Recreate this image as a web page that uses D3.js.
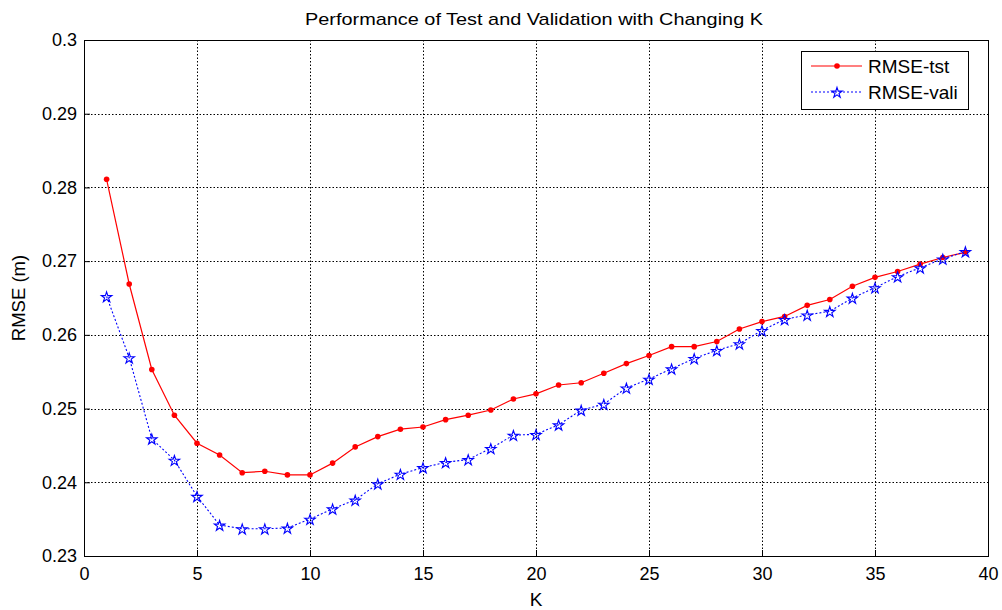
<!DOCTYPE html>
<html><head><meta charset="utf-8">
<script src="https://cdn.jsdelivr.net/npm/d3@7"></script>
<style>
body{margin:0;background:#fff;}
svg{display:block;font-family:"Liberation Sans",Arial,sans-serif;}
</style></head>
<body><svg id="c" width="1002" height="610"></svg>
<script>
const kValues = d3.range(1, 40);
const rmseTst = [0.2811,0.2669,0.2553,0.2491,0.2453,0.2437,0.2413,0.2415,0.2410,0.2410,
  0.2426,0.2448,0.2462,0.2472,0.2475,0.2485,0.2491,0.2498,0.2513,0.2520,
  0.2532,0.2535,0.2548,0.2561,0.2572,0.2584,0.2584,0.2591,0.2608,0.2618,
  0.2625,0.2640,0.2648,0.2666,0.2678,0.2686,0.2696,0.2705,0.2712];
const rmseVali = [0.2652,0.2569,0.2459,0.2430,0.2381,0.2342,0.2337,0.2337,0.2338,0.2350,
  0.2364,0.2376,0.2398,0.2411,0.2420,0.2427,0.2431,0.2446,0.2464,0.2465,
  0.2478,0.2498,0.2506,0.2528,0.2540,0.2554,0.2568,0.2579,0.2588,0.2606,
  0.2621,0.2627,0.2632,0.2650,0.2664,0.2679,0.2691,0.2703,0.2713];
const xTicks = [0,5,10,15,20,25,30,35,40];
const yTicks = [0.23,0.24,0.25,0.26,0.27,0.28,0.29,0.3];
const seriesNames = ["RMSE-tst","RMSE-vali"];
const titleText = "Performance of Test and Validation with Changing K";

const L=84,R=988,T=40,B=556;
const svg=d3.select("#c");
const x=d3.scaleLinear().domain([0,40]).range([L,R]);
const y=d3.scaleLinear().domain([0.23,0.3]).range([B,T]);

// grid
const g=svg.append("g");
g.selectAll(".vg").data(xTicks.slice(1,-1)).join("line")
  .attr("x1",d=>Math.round(x(d))+0.5).attr("x2",d=>Math.round(x(d))+0.5).attr("y1",T).attr("y2",B)
  .attr("stroke","#000").attr("stroke-width",1).attr("stroke-dasharray","1.5,2");
g.selectAll(".hg").data(yTicks.slice(1,-1)).join("line")
  .attr("y1",d=>Math.round(y(d))+0.5).attr("y2",d=>Math.round(y(d))+0.5).attr("x1",L).attr("x2",R)
  .attr("stroke","#000").attr("stroke-width",1).attr("stroke-dasharray","1.5,2");
// axes
const xa=d3.axisBottom(x).tickValues(xTicks).tickSize(-6).tickPadding(11).tickFormat(d3.format("d"));
const ya=d3.axisLeft(y).tickValues(yTicks).tickSize(-6).tickPadding(7).tickFormat(d=>String(+d.toFixed(2)));
const gx=svg.append("g").attr("transform",`translate(0,${B})`).call(xa);
const gy=svg.append("g").attr("transform",`translate(${L},0)`).call(ya);
[gx,gy].forEach(a=>{a.select(".domain").remove();
  a.selectAll("text").attr("font-size",18).attr("fill","#000").attr("font-family","Liberation Sans, Arial, sans-serif");
  a.selectAll("line").attr("stroke","#000");});
// box
svg.append("rect").attr("x",L+0.5).attr("y",T+0.5).attr("width",R-L).attr("height",B-T)
  .attr("fill","none").attr("stroke","#000").attr("stroke-width",1);

// lines
const line=d3.line().x((d,i)=>x(kValues[i])).y(d=>y(d));
svg.append("path").datum(rmseTst).attr("d",line).attr("fill","none").attr("stroke","#f00").attr("stroke-width",1.2);
svg.append("path").datum(rmseVali).attr("d",line).attr("fill","none").attr("stroke","#00f").attr("stroke-width",1.1).attr("stroke-dasharray","2,2");

const star=d3.symbol().type(d3.symbolStar).size(34);
svg.selectAll(".tp").data(rmseTst).join("circle")
  .attr("cx",(d,i)=>x(kValues[i])).attr("cy",d=>y(d)).attr("r",2.8).attr("fill","#f00");
svg.selectAll(".vp").data(rmseVali).join("path")
  .attr("d",()=>star()).attr("transform",(d,i)=>`translate(${x(kValues[i])},${y(d)+0.8})`)
  .attr("fill","none").attr("stroke","#00f").attr("stroke-width",1.1);

// title & labels
svg.append("text").attr("x",534).attr("y",25).attr("text-anchor","middle")
  .attr("font-size",17).text(titleText).attr("textLength",458).attr("lengthAdjust","spacingAndGlyphs");
svg.append("text").attr("x",(L+R)/2).attr("y",606).attr("text-anchor","middle").attr("font-size",19).text("K");
svg.append("text").attr("transform",`translate(25,${(T+B)/2}) rotate(-90)`).attr("text-anchor","middle")
  .attr("font-size",18.5).text("RMSE (m)");

// legend
const lg=svg.append("g");
lg.append("rect").attr("x",801.5).attr("y",51.5).attr("width",167).attr("height",58).attr("fill","#fff").attr("stroke","#000");
const rows=[{y:66,c:"#f00",dash:null},{y:92,c:"#00f",dash:"2,2"}];
rows.forEach((r,i)=>{
  lg.append("line").attr("x1",811).attr("x2",862).attr("y1",r.y).attr("y2",r.y).attr("stroke",r.c)
    .attr("stroke-width",1.1).attr("stroke-dasharray",r.dash);
  if(i===0) lg.append("circle").attr("cx",837).attr("cy",r.y).attr("r",2.8).attr("fill","#f00");
  else lg.append("path").attr("d",star()).attr("transform",`translate(837,${r.y+0.8})`).attr("fill","none").attr("stroke","#00f").attr("stroke-width",1.1);
  lg.append("text").attr("x",868).attr("y",r.y+7).attr("font-size",19).text(seriesNames[i]);
});
</script></body></html>
